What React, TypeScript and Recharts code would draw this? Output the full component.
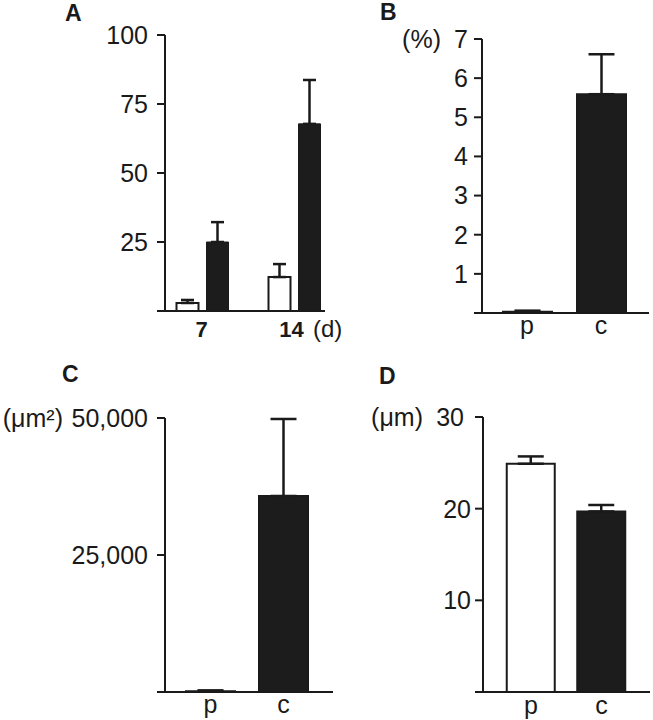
import React from 'react';
import { BarChart, Bar, XAxis, YAxis, ErrorBar, Cell } from 'recharts';

// ---------- data ----------
const daysA = ['7', '14'];
const openA = [2.9, 12.3];
const openErrA = [1.1, 4.7];
const filledA = [25.0, 67.8];
const filledErrA = [7.2, 15.9];
const yTicksA = [0, 25, 50, 75, 100];

const groupsPC = ['p', 'c'];

const valuesB = [0.03, 5.59];
const errB = [0.03, 1.02];
const yTicksB = [0, 1, 2, 3, 4, 5, 6, 7];

const valuesC = [150, 35770];
const errC = [150, 14050];
const yTicksC = [0, 25000, 50000];

const valuesD = [24.9, 19.7];
const errD = [0.8, 0.7];
const yTicksD = [0, 10, 20, 30];

// ---------- styles ----------
const INK = '#1a1a1a';
const DARK = '#1c1c1c';
const FONT = '"Liberation Sans", Arial, Helvetica, sans-serif';
const pcFills = ['#ffffff', DARK];

const dataA = daysA.map((d, i) => ({
  day: d,
  open: openA[i],
  openErr: [0, openErrA[i]],
  filled: filledA[i],
  filledErr: [0, filledErrA[i]],
}));
const mkPC = (vals: number[], errs: number[]) =>
  groupsPC.map((g, i) => ({ g, value: vals[i], err: [0, errs[i]] }));
const dataB = mkPC(valuesB, errB);
const dataC = mkPC(valuesC, errC);
const dataD = mkPC(valuesD, errD);

type YOpts = { top: number; unit?: string; unitEnd?: number; topDx?: number; fmt?: (v: number) => string };
const makeYTick = (o: YOpts) => (props: any) => {
  const { x, y, payload } = props;
  const v = payload.value;
  if (v === 0) return <g />;
  const label = o.fmt ? o.fmt(v) : String(v);
  const isTop = v === o.top;
  return (
    <g>
      <text x={x + (isTop && o.topDx ? o.topDx : 0)} y={y} dy="0.355em" textAnchor="end" fontSize={25} fontFamily={FONT} fill={INK}>
        {label}
      </text>
      {isTop && o.unit ? (
        <text x={x + (o.unitEnd || 0)} y={y} dy="0.355em" textAnchor="end" fontSize={25} fontFamily={FONT} fill={INK}>
          {o.unit}
        </text>
      ) : null}
    </g>
  );
};

const DayTick = (props: any) => {
  const { x, y, payload } = props;
  const v = payload.value;
  return (
    <g>
      <text x={v === '14' ? x - 3 : x - 1} y={y + 26} textAnchor="middle" fontSize={22} fontWeight="bold" fontFamily={FONT} fill={INK}>
        {v}
      </text>
      {v === '14' ? (
        <text x={x + 18.5} y={y + 26} textAnchor="start" fontSize={24} fontFamily={FONT} fill={INK}>
          (d)
        </text>
      ) : null}
    </g>
  );
};

const makePCTick = (dy: number) => (props: any) => {
  const { x, y, payload } = props;
  return (
    <text x={x} y={y + dy} textAnchor="middle" fontSize={25} fontFamily={FONT} fill={INK}>
      {payload.value}
    </text>
  );
};

const axisStyle = { stroke: INK, strokeWidth: 2 };

const Letter = ({ ch, left, top }: { ch: string; left: number; top: number }) => (
  <div
    style={{
      position: 'absolute',
      left,
      top,
      fontFamily: FONT,
      fontWeight: 'bold',
      fontSize: 23,
      lineHeight: '23px',
      color: INK,
    }}
  >
    {ch}
  </div>
);

const PCChart = ({
  data,
  left,
  top,
  width,
  height,
  margin,
  yWidth,
  domain,
  ticks,
  tickMargin,
  xHeight,
  padding,
  barSize,
  yOpts,
  labelDy,
}: any) => (
  <div style={{ position: 'absolute', left, top }}>
    <BarChart width={width} height={height} data={data} margin={margin}>
      <XAxis
        dataKey="g"
        type="category"
        interval={0}
        height={xHeight}
        padding={padding}
        axisLine={axisStyle}
        tickLine={false}
        tickSize={0}
        tickMargin={0}
        tick={makePCTick(labelDy)}
      />
      <YAxis
        type="number"
        domain={domain}
        ticks={ticks}
        interval={0}
        width={yWidth}
        tickSize={8}
        tickMargin={tickMargin}
        axisLine={axisStyle}
        tickLine={axisStyle}
        tick={makeYTick(yOpts)}
      />
      <Bar dataKey="value" barSize={barSize} stroke={INK} strokeWidth={2} isAnimationActive={false}>
        {data.map((_: any, i: number) => (
          <Cell key={i} fill={pcFills[i]} stroke={INK} strokeWidth={2} />
        ))}
        <ErrorBar dataKey="err" direction="y" width={13} stroke={INK} strokeWidth={2.5} isAnimationActive={false} />
      </Bar>
    </BarChart>
  </div>
);

export default function App() {
  return (
    <div style={{ position: 'absolute', left: 0, top: 0, width: 653, height: 720, background: '#ffffff', overflow: 'hidden' }}>
      {/* Panel A */}
      <div style={{ position: 'absolute', left: 0, top: 0 }}>
        <BarChart width={360} height={350} data={dataA} margin={{ top: 35, right: 35, left: 0, bottom: 0 }} barGap={8}>
          <XAxis
            dataKey="day"
            type="category"
            interval={0}
            height={39}
            padding={{ left: -8.5, right: -15.5 }}
            axisLine={axisStyle}
            tickLine={false}
            tickSize={0}
            tickMargin={0}
            tick={DayTick}
          />
          <YAxis
            type="number"
            domain={[0, 100]}
            ticks={yTicksA}
            interval={0}
            width={165}
            tickSize={8}
            tickMargin={9}
            axisLine={axisStyle}
            tickLine={axisStyle}
            tick={makeYTick({ top: 100 })}
          />
          <Bar dataKey="open" barSize={22} fill="#ffffff" stroke={INK} strokeWidth={2} isAnimationActive={false}>
            <ErrorBar dataKey="openErr" direction="y" width={6.5} stroke={INK} strokeWidth={2.5} isAnimationActive={false} />
          </Bar>
          <Bar dataKey="filled" barSize={22} fill={DARK} stroke={INK} strokeWidth={1} isAnimationActive={false}>
            <ErrorBar dataKey="filledErr" direction="y" width={6.5} stroke={INK} strokeWidth={2.5} isAnimationActive={false} />
          </Bar>
        </BarChart>
      </div>

      {/* Panel B */}
      <PCChart
        data={dataB}
        left={330}
        top={0}
        width={323}
        height={350}
        margin={{ top: 39, right: 4, left: 0, bottom: 0 }}
        yWidth={152}
        domain={[0, 7]}
        ticks={yTicksB}
        tickMargin={6}
        xHeight={37}
        padding={{ left: 8, right: 11 }}
        barSize={49}
        yOpts={{ top: 7, unit: '(%)', unitEnd: -27 }}
        labelDy={21}
      />

      {/* Panel C */}
      <PCChart
        data={dataC}
        left={0}
        top={360}
        width={340}
        height={360}
        margin={{ top: 58, right: 7, left: 0, bottom: 0 }}
        yWidth={165}
        domain={[0, 50000]}
        ticks={yTicksC}
        tickMargin={9}
        xHeight={28}
        padding={{ left: 9, right: 13 }}
        barSize={49}
        yOpts={{ top: 50000, unit: '(\u03bcm\u00b2)', unitEnd: -85, fmt: (v: number) => v.toLocaleString('en-US') }}
        labelDy={21}
      />

      {/* Panel D */}
      <PCChart
        data={dataD}
        left={330}
        top={360}
        width={323}
        height={360}
        margin={{ top: 57, right: 3, left: 0, bottom: 0 }}
        yWidth={153}
        domain={[0, 30]}
        ticks={yTicksD}
        tickMargin={4}
        xHeight={28}
        padding={{ left: 12.75, right: 13.25 }}
        barSize={48}
        yOpts={{ top: 30, unit: '(\u03bcm)', unitEnd: -48, topDx: -7 }}
        labelDy={22}
      />

      <Letter ch="A" left={65} top={2} />
      <Letter ch="B" left={380} top={1} />
      <Letter ch="C" left={62} top={363} />
      <Letter ch="D" left={379} top={365} />
    </div>
  );
}
